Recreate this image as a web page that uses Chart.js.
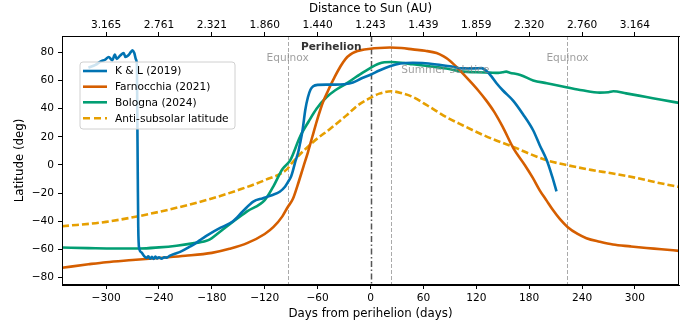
<!DOCTYPE html>
<html>
<head>
<meta charset="utf-8">
<script src="https://cdn.jsdelivr.net/npm/chart.js@4.4.1/dist/chart.umd.min.js"></script>
<style>
html,body{margin:0;padding:0;background:#fff;}
canvas{display:block;}
</style>
</head>
<body>
<canvas id="c" width="692" height="329"></canvas>
<script>
// ---------------- DATA ----------------
const xTicks = [-300, -240, -180, -120, -60, 0, 60, 120, 180, 240, 300];
const yTicks = [-80, -60, -40, -20, 0, 20, 40, 60, 80];
const distanceLabels = ["3.165","2.761","2.321","1.860","1.440","1.243","1.439","1.859","2.320","2.760","3.164"];

const seriesLabels = ["K & L (2019)", "Farnocchia (2021)", "Bologna (2024)", "Anti-subsolar latitude"];

const klDays = [-320,-312,-306,-301,-297,-293,-290,-288,-284,-280,-278,-275,-272,-270,-268,-266,-265,-264.5,-264,-263.5,-262.5,-260,-257,-254,-252,-250,-248,-246,-244,-242,-240,-237,-234,-231,-228,-222,-216,-210,-205,-199,-193.5,-188,-182,-170,-156,-145,-133,-122,-112,-103,-97,-93.5,-90,-88,-85,-82,-80,-77,-74,-71,-68,-65,-60,-50,-40,-30,-20,-10,0,10,22,34,48,59,75,90,105,118,126,132,137,143,150,162,173,184.5,192,200,206,211];
const klLat  = [69,71,73.5,74.7,76.6,74.3,78.3,75.2,77.6,79.4,76.6,77.6,80,81.3,79.4,74.7,70,30,-10,-44,-59,-62,-64.5,-66,-64.8,-66.5,-65.2,-66.8,-65,-66.3,-65.5,-66.5,-65.5,-65.8,-64.5,-63,-61.7,-59.8,-58,-55.8,-53.4,-51,-48.7,-44.5,-40,-33,-26,-23.6,-21.5,-19,-15.5,-12,-8,-4,3,9,15,25,39,48,53.5,55.8,56.8,57,57,57.3,58.5,61.5,64,67,70,72,72.5,72.3,71.3,70,68.5,68.5,68.7,66.5,63,58,53,45.5,36,24.6,14,3.3,-8,-18.7];

const farDays = [-350,-320,-300,-270,-240,-210,-180,-160,-140,-120,-110,-100,-94,-88,-83,-76,-71,-66,-61,-57,-53,-49,-45,-41,-34,-28,-23,-17,-12,0,10,22,35,48,62,75,83,90,100,112,122,131,140,150,162,175,184,192,200,207,215,223.5,235,245,260,275,295,313,330,350];
const farLat  = [-73,-70.5,-69,-67.5,-66,-64.5,-62.4,-59.5,-55.5,-49,-44,-36.5,-30,-24,-15,-1,9,20,31,39,46,51.5,57,62,70,75.5,78.3,80.3,81.3,82.5,83,83.3,83,82,81,79.4,77,74,68,60,53,46,38,27,12,0,-9,-18,-25.5,-32,-38.5,-44,-49,-52,-54.5,-56.5,-57.8,-58.9,-59.8,-61];

const bolDays = [-350,-320,-290,-262,-240,-220,-200,-184,-170,-156,-140,-120,-110,-100,-91,-80,-70,-61,-50,-40,-27.6,-15,-5,10,23.5,35,48,67,86,105,120,135,145,150,154,158,170,184.5,200,223.5,240,260,270,275.5,290,313,330,350];
const bolLat  = [-58.6,-59,-59.3,-59.3,-58.5,-57.3,-55.5,-53.4,-47,-40.3,-33,-25,-15,-3,3.4,20,31,40,48,53,57.7,63,67,72,73,72.5,71.4,70,68.4,66.2,65.8,65.5,65.3,65.8,66.2,65.5,63.9,60,58,55,53,51.3,51.6,52.3,50.8,48.2,46.3,44];

const subDays = [-350,-300,-240,-180,-150,-120,-94,-91,-65,-45,-27.6,-15,-5,10,23.5,35,48,65,86,105,124,140,162,180,200,223.5,250,275,300,325,350];
const subLat  = [-43.5,-40.4,-33.3,-23.8,-17.8,-10.8,-2.6,0,16.3,26,35,42,45.9,50.6,52.3,51,48.2,42,34,28,22.3,18,12.8,8,3.3,-0.2,-3.5,-6.1,-9,-12.5,-15.6];

const markerDays = [-94, 0, 23.5, 223.5];
const markerTexts = ["Equinox", "Perihelion", "Summer solstice", "Equinox"];

// ---------------- CHART ----------------
const FONT = "'DejaVu Sans', sans-serif";
const colors = ["#0173B2", "#D55E00", "#029E73", "#E69F00"];
const zip = (xs, ys) => xs.map((x, i) => ({x: x, y: ys[i]}));
const minus = v => String(v).replace('-', '\u2212');

const bg = {
  id: 'bg',
  beforeDraw(chart) {
    const ctx = chart.ctx;
    ctx.save(); ctx.fillStyle = '#fff'; ctx.fillRect(0, 0, chart.width, chart.height); ctx.restore();
  }
};

const markers = {
  id: 'markers',
  beforeDatasetsDraw(chart) {
    const {ctx, chartArea: a, scales: {x}} = chart;
    ctx.save();
    markerDays.forEach((d, i) => {
      const px = Math.round(x.getPixelForValue(d)) + 0.5;
      ctx.beginPath();
      if (i === 1) {
        ctx.strokeStyle = '#555';
        ctx.lineWidth = 1.5;
        ctx.setLineDash([6, 2.5, 1.5, 2.5]);
      } else {
        ctx.strokeStyle = '#aaa';
        ctx.lineWidth = 1;
        ctx.setLineDash([4, 2]);
      }
      ctx.moveTo(px, a.top); ctx.lineTo(px, a.bottom); ctx.stroke();
    });
    ctx.restore();
  },
  afterDatasetsDraw(chart) {
    const {ctx, scales: {x}} = chart;
    ctx.save();
    ctx.textBaseline = 'middle';
    ctx.font = `10.6px ${FONT}`;
    ctx.fillStyle = 'rgba(128,128,128,0.75)';
    ctx.textAlign = 'center';
    ctx.fillText(markerTexts[0], x.getPixelForValue(markerDays[0]), 58.5);
    ctx.fillText(markerTexts[3], x.getPixelForValue(markerDays[3]), 58.5);
    ctx.textAlign = 'left';
    ctx.fillText(markerTexts[2], x.getPixelForValue(markerDays[2]) + 10, 70);
    ctx.font = `bold 10.6px ${FONT}`;
    ctx.fillStyle = '#333';
    ctx.textAlign = 'right';
    ctx.fillText(markerTexts[1], x.getPixelForValue(markerDays[1]) - 9, 47);
    const a = chart.chartArea;
    ctx.strokeStyle = '#000'; ctx.lineWidth = 1; ctx.setLineDash([]);
    ctx.strokeRect(Math.round(a.left) + 0.5, Math.round(a.top) + 0.5, Math.round(a.right - a.left) - 1, Math.round(a.bottom - a.top) - 1);
    ctx.restore();
  }
};

const legendBox = {
  id: 'legendBox',
  afterDraw(chart) {
    const ctx = chart.ctx;
    const bx = 80, by = 62, bw = 155, bh = 67, r = 3;
    ctx.save();
    ctx.beginPath();
    ctx.moveTo(bx + r, by);
    ctx.arcTo(bx + bw, by, bx + bw, by + bh, r);
    ctx.arcTo(bx + bw, by + bh, bx, by + bh, r);
    ctx.arcTo(bx, by + bh, bx, by, r);
    ctx.arcTo(bx, by, bx + bw, by, r);
    ctx.closePath();
    ctx.fillStyle = 'rgba(255,255,255,0.8)';
    ctx.fill();
    ctx.strokeStyle = '#d0d0d0'; ctx.lineWidth = 1; ctx.stroke();
    const rows = [71, 86.7, 102.3, 118.3];
    chart.data.datasets.forEach((ds, i) => {
      ctx.beginPath();
      ctx.strokeStyle = ds.borderColor;
      ctx.lineWidth = ds.borderWidth;
      ctx.setLineDash(ds.borderDash && ds.borderDash.length ? [7, 4] : []);
      ctx.moveTo(83, rows[i]); ctx.lineTo(107, rows[i]); ctx.stroke();
      ctx.setLineDash([]);
      ctx.fillStyle = '#000';
      ctx.font = `10.6px ${FONT}`;
      ctx.textAlign = 'left'; ctx.textBaseline = 'middle';
      ctx.fillText(ds.label, 115, rows[i] + 0.5);
    });
    ctx.restore();
  }
};

const mkDs = (label, xs, ys, color, dash) => ({
  label: label,
  data: zip(xs, ys),
  borderColor: color,
  backgroundColor: color,
  borderWidth: 2.6,
  borderDash: dash || [],
  pointRadius: 0,
  fill: false,
  cubicInterpolationMode: 'monotone'
});

const tickFont = {family: FONT, size: 10.6};
const titleFont = {family: FONT, size: 11.8};

new Chart(document.getElementById('c'), {
  type: 'line',
  data: {
    datasets: [
      mkDs(seriesLabels[0], klDays, klLat, colors[0]),
      mkDs(seriesLabels[1], farDays, farLat, colors[1]),
      mkDs(seriesLabels[2], bolDays, bolLat, colors[2]),
      mkDs(seriesLabels[3], subDays, subLat, colors[3], [7, 3])
    ]
  },
  options: {
    responsive: false,
    animation: false,
    devicePixelRatio: 1,
    layout: {padding: {left: 0, right: 13, top: 0, bottom: 0}},
    plugins: {legend: {display: false}, tooltip: {enabled: false}},
    scales: {
      x: {
        type: 'linear', position: 'bottom', min: -350, max: 350,
        afterBuildTicks: s => { s.ticks = xTicks.map(v => ({value: v})); },
        afterFit: s => { s.height = 44; },
        ticks: {font: tickFont, color: '#000', padding: 3, maxRotation: 0, autoSkip: false, callback: v => minus(v)},
        grid: {drawOnChartArea: false, drawTicks: true, tickLength: 4, tickColor: '#000'},
        border: {display: true, color: '#000'},
        title: {display: true, text: 'Days from perihelion (days)', font: titleFont, color: '#000', padding: {top: 0, bottom: 8}}
      },
      x2: {
        type: 'linear', position: 'top', min: -350, max: 350,
        afterBuildTicks: s => { s.ticks = xTicks.map(v => ({value: v})); },
        afterFit: s => { s.height = 36; },
        ticks: {font: tickFont, color: '#000', padding: 0, maxRotation: 0, autoSkip: false,
          callback: (v) => { const i = xTicks.indexOf(v); return i >= 0 ? distanceLabels[i] : ''; }},
        grid: {drawOnChartArea: false, drawTicks: true, tickLength: 4, tickColor: '#000'},
        border: {display: true, color: '#000'},
        title: {display: true, text: 'Distance to Sun (AU)', font: titleFont, color: '#000', padding: {top: 2, bottom: 0}}
      },
      y: {
        type: 'linear', position: 'left', min: -85.2, max: 91.5,
        afterBuildTicks: s => { s.ticks = yTicks.map(v => ({value: v})); },
        afterFit: s => { s.width = 62; },
        ticks: {font: tickFont, color: '#000', padding: 4, callback: v => minus(v)},
        grid: {drawOnChartArea: false, drawTicks: true, tickLength: 4, tickColor: '#000'},
        border: {display: true, color: '#000'},
        title: {display: true, text: 'Latitude (deg)', font: titleFont, color: '#000', padding: {top: 13, bottom: 0}}
      }
    }
  },
  plugins: [bg, markers, legendBox]
});
</script>
</body>
</html>
